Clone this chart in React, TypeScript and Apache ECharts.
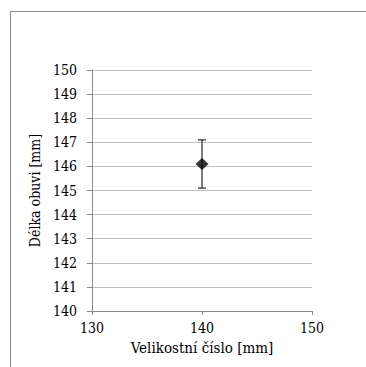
import React, { useEffect, useRef } from "react";
import * as echarts from "echarts";

const xValues = [140];
const yMeans = [146.1];
const yLow = [145.1];
const yHigh = [147.1];

const xTicks = { min: 130, max: 150, interval: 10 };
const yTicks = { min: 140, max: 150, interval: 1 };

const xName = "Velikostní číslo [mm]";
const yName = "Délka obuvi [mm]";

const FONT = "DejaVu Serif Condensed";

export default function App() {
  const ref = useRef<HTMLDivElement>(null);
  useEffect(() => {
    document.body.style.margin = "0";
    const chart = echarts.init(ref.current!, null, { renderer: "svg" });
    const pts = xValues.map((x, i) => [x, yMeans[i]]);
    const errs = xValues.map((x, i) => [x, yLow[i], yHigh[i]]);
    chart.setOption({
      animation: false,
      backgroundColor: "#ffffff",
      graphic: [
        {
          type: "rect",
          shape: { x: 10.5, y: 11.5, width: 420, height: 420 },
          style: { fill: "none", stroke: "#8a8a8a", lineWidth: 1 },
          silent: true,
        },
      ],
      grid: { left: 92, right: 54, top: 70, bottom: 56 },
      xAxis: {
        type: "value",
        min: xTicks.min,
        max: xTicks.max,
        interval: xTicks.interval,
        name: xName,
        nameLocation: "middle",
        nameGap: 29,
        nameTextStyle: { fontFamily: FONT, fontSize: 15, color: "#000" },
        axisLine: { show: true, onZero: false, lineStyle: { color: "#8a8a8a", width: 1 } },
        axisTick: { show: true, inside: false, length: 4, lineStyle: { color: "#8a8a8a" } },
        axisLabel: { fontFamily: FONT, fontSize: 14, color: "#000", margin: 10 },
        splitLine: { show: false },
      },
      yAxis: {
        type: "value",
        min: yTicks.min,
        max: yTicks.max,
        interval: yTicks.interval,
        name: yName,
        nameLocation: "middle",
        nameGap: 45,
        nameTextStyle: { fontFamily: FONT, fontSize: 14, color: "#000" },
        axisLine: { show: true, lineStyle: { color: "#8a8a8a", width: 1 } },
        axisTick: { show: true, inside: false, length: 5, lineStyle: { color: "#8a8a8a" } },
        axisLabel: { fontFamily: FONT, fontSize: 14, color: "#000", margin: 15 },
        splitLine: { show: true, lineStyle: { color: "#c0c0c0", width: 1 } },
      },
      series: [
        {
          type: "custom",
          data: errs,
          renderItem: (params: any, api: any) => {
            const x = api.value(0);
            const lo = api.coord([x, api.value(1)]);
            const hi = api.coord([x, api.value(2)]);
            const cap = 4;
            const st = { stroke: "#000", lineWidth: 1 };
            return {
              type: "group",
              children: [
                { type: "line", shape: { x1: lo[0], y1: lo[1], x2: hi[0], y2: hi[1] }, style: st },
                { type: "line", shape: { x1: lo[0] - cap, y1: lo[1], x2: lo[0] + cap, y2: lo[1] }, style: st },
                { type: "line", shape: { x1: hi[0] - cap, y1: hi[1], x2: hi[0] + cap, y2: hi[1] }, style: st },
              ],
            };
          },
          z: 2,
        },
        {
          type: "scatter",
          data: pts,
          symbol: "diamond",
          symbolSize: [13, 12],
          itemStyle: { color: "#000" },
          z: 3,
        },
      ],
    });
    return () => chart.dispose();
  }, []);
  return (
    <div
      ref={ref}
      style={{ position: "absolute", left: 0, top: 0, width: 366, height: 367 }}
    />
  );
}
